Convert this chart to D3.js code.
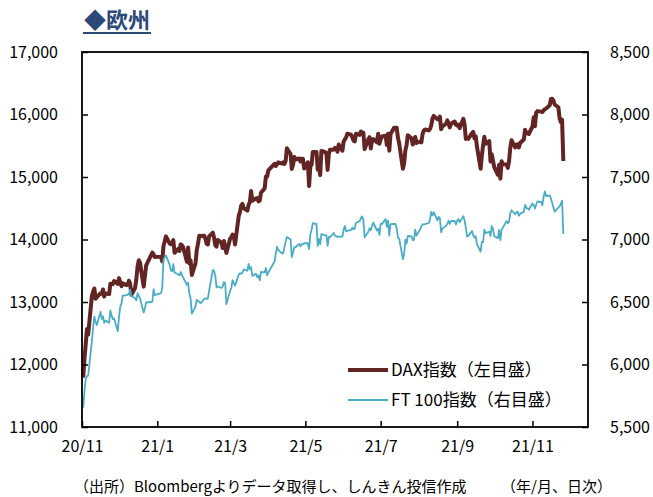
<!DOCTYPE html>
<html>
<head>
<meta charset="utf-8">
<script src="https://cdn.jsdelivr.net/npm/d3@7"></script>
<style>
  body { margin: 0; background: #fff; }
  svg text { font-family: "Noto Sans CJK JP", "Liberation Sans", sans-serif; fill: #000; }
</style>
</head>
<body>
<div id="chart"></div>
<script>
// trading days (DAX / FT100 closes)
var dates = [
  "2020-11-02","2020-11-03","2020-11-04","2020-11-05","2020-11-06","2020-11-09","2020-11-10","2020-11-11","2020-11-12","2020-11-13",
  "2020-11-16","2020-11-17","2020-11-18","2020-11-19","2020-11-20","2020-11-23","2020-11-24","2020-11-25","2020-11-26","2020-11-27","2020-11-30",
  "2020-12-01","2020-12-02","2020-12-03","2020-12-04","2020-12-07","2020-12-08","2020-12-09","2020-12-10","2020-12-11",
  "2020-12-14","2020-12-15","2020-12-16","2020-12-17","2020-12-18","2020-12-21","2020-12-22","2020-12-23","2020-12-28","2020-12-29","2020-12-30",
  "2021-01-04","2021-01-05","2021-01-06","2021-01-07","2021-01-08","2021-01-11","2021-01-12","2021-01-13","2021-01-14","2021-01-15",
  "2021-01-18","2021-01-19","2021-01-20","2021-01-21","2021-01-22","2021-01-25","2021-01-26","2021-01-27","2021-01-28","2021-01-29",
  "2021-02-01","2021-02-02","2021-02-03","2021-02-04","2021-02-05","2021-02-08","2021-02-09","2021-02-10","2021-02-11","2021-02-12",
  "2021-02-15","2021-02-16","2021-02-17","2021-02-18","2021-02-19","2021-02-22","2021-02-23","2021-02-24","2021-02-25","2021-02-26",
  "2021-03-01","2021-03-02","2021-03-03","2021-03-04","2021-03-05","2021-03-08","2021-03-09","2021-03-10","2021-03-11","2021-03-12",
  "2021-03-15","2021-03-16","2021-03-17","2021-03-18","2021-03-19","2021-03-22","2021-03-23","2021-03-24","2021-03-25","2021-03-26",
  "2021-03-29","2021-03-30","2021-03-31",
  "2021-04-01","2021-04-06","2021-04-07","2021-04-08","2021-04-09","2021-04-12","2021-04-13","2021-04-14","2021-04-15","2021-04-16",
  "2021-04-19","2021-04-20","2021-04-21","2021-04-22","2021-04-23","2021-04-26","2021-04-27","2021-04-28","2021-04-29","2021-04-30",
  "2021-05-03","2021-05-04","2021-05-05","2021-05-06","2021-05-07","2021-05-10","2021-05-11","2021-05-12","2021-05-13","2021-05-14",
  "2021-05-17","2021-05-18","2021-05-19","2021-05-20","2021-05-21","2021-05-24","2021-05-25","2021-05-26","2021-05-27","2021-05-28","2021-05-31",
  "2021-06-01","2021-06-02","2021-06-03","2021-06-04","2021-06-07","2021-06-08","2021-06-09","2021-06-10","2021-06-11",
  "2021-06-14","2021-06-15","2021-06-16","2021-06-17","2021-06-18","2021-06-21","2021-06-22","2021-06-23","2021-06-24","2021-06-25",
  "2021-06-28","2021-06-29","2021-06-30",
  "2021-07-01","2021-07-02","2021-07-05","2021-07-06","2021-07-07","2021-07-08","2021-07-09","2021-07-12","2021-07-13","2021-07-14",
  "2021-07-15","2021-07-16","2021-07-19","2021-07-20","2021-07-21","2021-07-22","2021-07-23","2021-07-26","2021-07-27","2021-07-28",
  "2021-07-29","2021-07-30",
  "2021-08-02","2021-08-03","2021-08-04","2021-08-05","2021-08-06","2021-08-09","2021-08-10","2021-08-11","2021-08-12","2021-08-13",
  "2021-08-16","2021-08-17","2021-08-18","2021-08-19","2021-08-20","2021-08-23","2021-08-24","2021-08-25","2021-08-26","2021-08-27",
  "2021-08-30","2021-08-31",
  "2021-09-01","2021-09-02","2021-09-03","2021-09-06","2021-09-07","2021-09-08","2021-09-09","2021-09-10","2021-09-13","2021-09-14",
  "2021-09-15","2021-09-16","2021-09-17","2021-09-20","2021-09-21","2021-09-22","2021-09-23","2021-09-24","2021-09-27","2021-09-28",
  "2021-09-29","2021-09-30",
  "2021-10-01","2021-10-04","2021-10-05","2021-10-06","2021-10-07","2021-10-08","2021-10-11","2021-10-12","2021-10-13","2021-10-14",
  "2021-10-15","2021-10-18","2021-10-19","2021-10-20","2021-10-21","2021-10-22","2021-10-25","2021-10-26","2021-10-27","2021-10-28",
  "2021-10-29",
  "2021-11-01","2021-11-02","2021-11-03","2021-11-04","2021-11-05","2021-11-08","2021-11-09","2021-11-10","2021-11-11","2021-11-12",
  "2021-11-15","2021-11-16","2021-11-17","2021-11-18","2021-11-19","2021-11-22","2021-11-23","2021-11-24","2021-11-25","2021-11-26"
];

var dax = [
  11789,12089,12324,12568,12480,13096,13163,13216,13052,13077,
  13139,13133,13201,13086,13137,13127,13292,13290,13286,13336,13291,
  13382,13313,13252,13298,13271,13278,13340,13296,13114,
  13223,13362,13565,13667,13630,13246,13418,13587,13790,13761,13719,
  13726,13652,13892,13968,14050,13937,13925,13940,13989,13788,
  13849,13816,13922,13907,13874,13643,13871,13620,13666,13433,
  13622,13835,13933,14060,14057,14060,14011,13933,13921,14050,
  14109,14033,13909,13887,13993,13950,13865,13976,13879,13786,
  14012,14039,14080,14056,13920,14380,14437,14540,14569,14502,
  14461,14557,14596,14775,14621,14657,14662,14610,14621,14749,
  14818,15008,15008,
  15107,15212,15176,15203,15234,15215,15234,15209,15255,15460,
  15368,15130,15196,15320,15280,15296,15249,15292,15291,15136,
  15236,14856,15171,15197,15400,15400,15120,15151,15031,15417,
  15397,15386,15113,15370,15438,15438,15465,15450,15407,15520,15421,
  15568,15603,15633,15693,15677,15640,15581,15571,15693,
  15674,15729,15711,15710,15448,15603,15637,15456,15590,15608,
  15554,15691,15531,
  15603,15650,15661,15511,15692,15421,15688,15790,15790,15788,
  15629,15540,15133,15216,15422,15514,15669,15618,15519,15570,
  15640,15544,
  15568,15555,15692,15744,15761,15746,15770,15826,15937,15977,
  15925,15922,15965,15765,15808,15852,15906,15860,15793,15852,
  15888,15835,
  15824,15840,15781,15932,15843,15610,15623,15609,15701,15722,
  15616,15652,15490,15132,15349,15506,15644,15532,15573,15249,
  15365,15261,
  15157,15036,15195,14973,15252,15206,15199,15147,15250,15463,
  15588,15474,15516,15523,15473,15543,15600,15757,15705,15696,
  15688,
  15807,15955,15812,16029,16054,16046,16040,16067,16083,16094,
  16148,16248,16251,16221,16160,16116,15937,15878,15917,15257
];

var ft100 = [
  5655,5786,5883,5906,5910,6186,6297,6382,6339,6316,
  6421,6365,6385,6334,6351,6334,6433,6391,6363,6368,6266,
  6384,6463,6490,6550,6555,6559,6564,6599,6547,
  6532,6513,6570,6550,6529,6416,6453,6496,6502,6602,6555,
  6571,6612,6841,6857,6873,6799,6754,6745,6802,6736,
  6720,6713,6740,6715,6695,6638,6654,6567,6526,6407,
  6466,6517,6507,6504,6489,6523,6531,6524,6528,6589,
  6756,6748,6711,6617,6624,6612,6625,6659,6652,6483,
  6589,6614,6675,6651,6631,6719,6730,6725,6737,6761,
  6750,6804,6762,6779,6709,6726,6699,6713,6674,6740,
  6737,6772,6714,
  6737,6824,6885,6942,6916,6890,6890,6939,6983,7020,
  7000,6860,6896,6938,6938,6965,6945,6963,6961,6970,
  6970,6923,7039,7077,7130,7124,6948,7004,6963,7044,
  7033,7034,6950,7020,7018,7052,7029,7027,7020,7023,7023,
  7080,7108,7064,7069,7077,7095,7081,7088,7134,
  7147,7172,7185,7153,7017,7062,7090,7074,7109,7136,
  7072,7087,7037,
  7125,7123,7164,7101,7151,7031,7122,7125,7124,7091,
  7012,7008,6844,6882,6998,6968,7028,7025,6996,6996,
  7078,7032,
  7081,7105,7123,7120,7123,7132,7161,7220,7193,7218,
  7154,7181,7169,7058,7087,7109,7125,7150,7125,7148,
  7148,7120,
  7150,7164,7138,7187,7149,7096,7024,7029,7068,7034,
  7016,7027,6963,6903,6981,6980,7078,7051,7063,7028,
  7108,7086,
  7027,7011,7077,6995,7078,7095,7147,7130,7141,7208,
  7234,7203,7217,7223,7190,7205,7222,7277,7253,7249,
  7238,
  7288,7274,7248,7280,7304,7300,7274,7340,7384,7348,
  7352,7327,7291,7255,7223,7255,7266,7286,7310,7044
];

// axis ticks
var xTicks = ["2020-11-01","2021-01-01","2021-03-01","2021-05-01","2021-07-01","2021-09-01","2021-11-01"];
var xTickLabels = ["20/11","21/1","21/3","21/5","21/7","21/9","21/11"];
var leftTicks = [11000,12000,13000,14000,15000,16000,17000];
var rightTicks = [5500,6000,6500,7000,7500,8000,8500];

var seriesNames = ["DAX指数（左目盛）","FT 100指数（右目盛）"];
var title = "◆欧州";
var source = "（出所）Bloombergよりデータ取得し、しんきん投信作成";
var unitNote = "（年/月、日次）";

var W = 653, H = 497;
var margin = {top: 52, right: 65, bottom: 70, left: 82},
    width = W - margin.left - margin.right,
    height = H - margin.top - margin.bottom;

var parse = d3.timeParse("%Y-%m-%d");
var data = dates.map(function(d, i) {
  return {date: parse(d), dax: dax[i], ft: ft100[i]};
});

var x = d3.scaleTime()
    .domain([parse("2020-11-01"), parse("2021-12-16")])
    .range([0, width]);
var yL = d3.scaleLinear().domain([11000, 17000]).range([height, 0]);
var yR = d3.scaleLinear().domain([5500, 8500]).range([height, 0]);

var svg = d3.select("#chart").append("svg")
    .attr("width", W)
    .attr("height", H);

// title with underline
var titleText = svg.append("text")
    .attr("x", 84)
    .attr("y", 28)
    .style("font-size", "22px")
    .style("font-weight", "bold")
    .style("fill", "#2b4a78")
    .text(title);
var tb = titleText.node().getBBox();
svg.append("line")
    .attr("x1", tb.x - 1).attr("x2", tb.x + tb.width + 1)
    .attr("y1", 33).attr("y2", 33)
    .style("stroke", "#2b4a78")
    .style("stroke-width", 2);

var g = svg.append("g")
    .attr("transform", "translate(" + margin.left + "," + margin.top + ")");

// lines
var daxLine = d3.line()
    .x(function(d) { return x(d.date); })
    .y(function(d) { return yL(d.dax); });
var ftLine = d3.line()
    .x(function(d) { return x(d.date); })
    .y(function(d) { return yR(d.ft); });

g.append("path")
    .attr("d", daxLine(data))
    .style("fill", "none")
    .style("stroke", "#632523")
    .style("stroke-width", 4)
    .style("stroke-linejoin", "round");

g.append("path")
    .attr("d", ftLine(data))
    .style("fill", "none")
    .style("stroke", "#4bacc6")
    .style("stroke-width", 1.8)
    .style("stroke-linejoin", "round");

// frame
g.append("rect")
    .attr("width", width)
    .attr("height", height)
    .style("fill", "none")
    .style("stroke", "#000")
    .style("stroke-width", 1.8);

// left axis (ticks pointing inward)
var leftAxis = d3.axisLeft(yL)
    .tickValues(leftTicks)
    .tickFormat(d3.format(","))
    .tickSizeInner(-6)
    .tickSizeOuter(0)
    .tickPadding(24);
var la = g.append("g").call(leftAxis);

// right axis
var rightAxis = d3.axisRight(yR)
    .tickValues(rightTicks)
    .tickFormat(d3.format(","))
    .tickSizeInner(-6)
    .tickSizeOuter(0)
    .tickPadding(22);
var ra = g.append("g")
    .attr("transform", "translate(" + width + ",0)")
    .call(rightAxis);

// bottom axis
var bottomAxis = d3.axisBottom(x)
    .tickValues(xTicks.map(parse))
    .tickFormat(function(d, i) { return xTickLabels[i]; })
    .tickSizeInner(-6)
    .tickSizeOuter(0)
    .tickPadding(14);
var ba = g.append("g")
    .attr("transform", "translate(0," + height + ")")
    .call(bottomAxis);

[la, ra, ba].forEach(function(a) {
  a.select(".domain").remove();
  a.selectAll(".tick line").style("stroke", "#000").style("stroke-width", 1.5);
  a.selectAll(".tick text").style("font-size", "16px").style("fill", "#000");
});

// legend
var legend = g.append("g");
var legendItems = [
  {name: seriesNames[0], color: "#632523", w: 4},
  {name: seriesNames[1], color: "#4bacc6", w: 1.8}
];
legendItems.forEach(function(d, i) {
  var yy = 318 + i * 30;
  legend.append("line")
    .attr("x1", 266).attr("x2", 306)
    .attr("y1", yy).attr("y2", yy)
    .style("stroke", d.color)
    .style("stroke-width", d.w);
  legend.append("text")
    .attr("x", 309)
    .attr("y", yy)
    .attr("dy", "0.35em")
    .style("font-size", "17px")
    .text(d.name);
});

// source note
svg.append("text")
    .attr("x", 74)
    .attr("y", 492)
    .style("font-size", "15px")
    .text(source);
svg.append("text")
    .attr("x", 612)
    .attr("y", 492)
    .attr("text-anchor", "end")
    .style("font-size", "15px")
    .text(unitNote);
</script>
</body>
</html>
